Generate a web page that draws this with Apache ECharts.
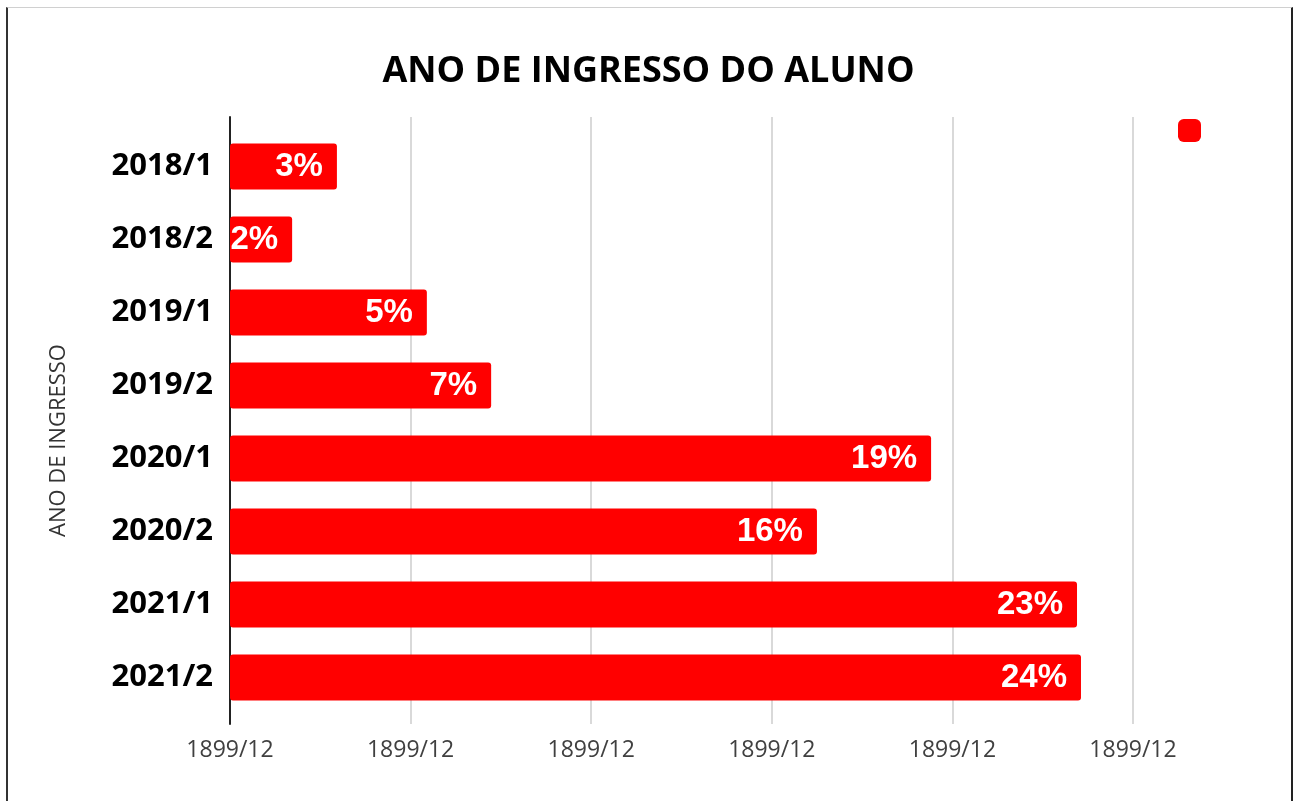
<!DOCTYPE html>
<html>
<head>
<meta charset="utf-8">
<script src="https://cdn.jsdelivr.net/npm/echarts@6/dist/echarts.min.js"></script>
<style>
  html, body { margin: 0; padding: 0; background: #fff; }
  #frame {
    position: absolute; left: 6px; top: 7px; width: 1287px; height: 800px;
    border-top: 1px solid #d0d0d0; border-left: 2px solid #333; border-right: 2px solid #222;
    box-sizing: border-box;
  }
  #chart { position: absolute; left: 0; top: 0; width: 1297px; height: 801px; }
</style>
</head>
<body>
<div id="frame"></div>
<div id="chart"></div>
<script>
// categories top -> bottom
const categories = ['2018/1', '2018/2', '2019/1', '2019/2', '2020/1', '2020/2', '2021/1', '2021/2']
// share of students, percent
const shares = [2.96, 1.72, 5.45, 7.23, 19.41, 16.25, 23.45, 23.56]
// the x axis labels really read like this (Excel date format on a % axis)
const tickLabel = '1899/12'

const chart = echarts.init(document.getElementById('chart'))
const red = '#ff0000'
const fontFamily = '"Open Sans", "Noto Sans", sans-serif'

const option = {
  animation: false,
  title: {
    text: 'ANO DE INGRESSO DO ALUNO',
    left: 'center',
    top: 49,
    textStyle: { fontFamily, fontSize: 36, fontWeight: 'bold', color: '#000' }
  },
  legend: {
    data: ['Total'],
    right: 91,
    top: 114,
    icon: 'roundRect',
    itemWidth: 23,
    itemHeight: 23,
    formatter: () => '',
    selectedMode: false
  },
  grid: [
    // bars
    { left: 230, right: 164, top: 130, height: 584 },
    // frame: gridlines, axis line and tick labels
    { left: 230, right: 164, top: 117, height: 607 }
  ],
  xAxis: [
    {
      gridIndex: 0, type: 'value', min: 0, max: 25, interval: 5,
      axisLine: { show: false }, axisTick: { show: false },
      axisLabel: { show: false }, splitLine: { show: false }
    },
    {
      gridIndex: 1, type: 'value', min: 0, max: 25, interval: 5,
      axisLine: { show: false }, axisTick: { show: false },
      axisLabel: {
        margin: 15,
        formatter: () => tickLabel,
        fontFamily, fontSize: 23, color: '#404040'
      },
      splitLine: { lineStyle: { color: '#d9d9d9', width: 2 } }
    }
  ],
  yAxis: [
    {
      gridIndex: 0, type: 'category', data: categories, inverse: true,
      axisLine: { show: false }, axisTick: { show: false },
      axisLabel: {
        margin: 17,
        fontFamily, fontSize: 31, fontWeight: 'bold', color: '#000'
      }
    },
    {
      gridIndex: 1, type: 'value', min: 0, max: 1,
      name: 'ANO DE INGRESSO',
      nameLocation: 'middle',
      nameGap: 160,
      nameTextStyle: { fontFamily, fontSize: 22, color: '#333', padding: [0, 40, 0, 0] },
      axisLine: { show: true, lineStyle: { color: '#222', width: 2 } },
      axisTick: { show: false }, axisLabel: { show: false }, splitLine: { show: false }
    }
  ],
  series: [
    {
      name: 'Total',
      type: 'bar',
      xAxisIndex: 0,
      yAxisIndex: 0,
      data: shares,
      barWidth: 46,
      itemStyle: { color: red, borderRadius: 3 },
      label: {
        show: true,
        position: 'insideRight',
        distance: 14,
        formatter: (p) => Math.round(p.value) + '%',
        fontFamily: '"Liberation Sans", Arial, sans-serif',
        fontSize: 33,
        fontWeight: 'bold',
        color: '#fff'
      }
    }
  ]
}

chart.setOption(option)
window.addEventListener('resize', function () {
  chart.resize()
})
</script>
</body>
</html>
